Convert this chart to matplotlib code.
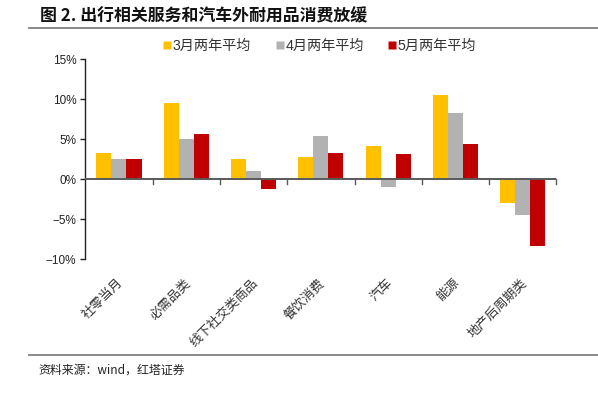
import matplotlib
matplotlib.use("Agg")
import matplotlib.pyplot as plt
import numpy as np
from matplotlib.lines import Line2D

plt.rcParams['font.family'] = ['Liberation Sans', 'Noto Sans CJK SC', 'DejaVu Sans']
plt.rcParams['axes.unicode_minus'] = True

categories = ["社零当月", "必需品类", "线下社交类商品", "餐饮消费", "汽车", "能源", "地产后周期类"]
series_names = ["3月两年平均", "4月两年平均", "5月两年平均"]
mar_vals = [3.25, 9.6, 2.5, 2.75, 4.15, 10.6, -3.0]
apr_vals = [2.6, 5.1, 1.1, 5.4, -0.9, 8.3, -4.45]
may_vals = [2.6, 5.65, -1.15, 3.25, 3.2, 4.4, -8.35]
colors = ["#FFC000", "#B2B2B2", "#C00000"]
yticks = [-10, -5, 0, 5, 10, 15]

fig = plt.figure(figsize=(5.98, 3.93), dpi=100)
ax = fig.add_axes([0.1427, 0.340, 0.7879, 0.509])

x = np.arange(len(categories))
w = 0.223
for i, (vals, c) in enumerate(zip([mar_vals, apr_vals, may_vals], colors)):
    ax.bar(x + (i - 1) * w, vals, width=w, color=c, edgecolor='none', zorder=2)

ax.set_xlim(-0.5, len(categories) - 0.5)
ax.set_ylim(-10, 15)
ax.set_yticks(yticks)
ax.set_yticklabels([f"{t}%".replace('-', '\u2212') for t in yticks], fontsize=8.5, color='#222222')
ax.tick_params(axis='y', direction='out', length=3.5, width=1, color='#222222', pad=3)

for s in ['top', 'right', 'bottom']:
    ax.spines[s].set_visible(False)
ax.spines['left'].set_color('#222222')
ax.spines['left'].set_linewidth(1)

ax.axhline(0, color='#595959', lw=1.4, zorder=3)
ax.set_xticks([])
for b in np.arange(0.5, len(categories), 1.0):
    ax.plot([b, b], [0, -0.55], color='#595959', lw=1, clip_on=False, zorder=3)

for xi, lab in zip(x, categories):
    ax.text(xi - 0.04, -12.1, lab, rotation=45, ha='right', va='top', rotation_mode='anchor',
            fontsize=9.3, family=['Noto Sans CJK SC'], color='#333333', clip_on=False)

handles = [Line2D([0], [0], marker='s', linestyle='none', markersize=5.5, markerfacecolor=c,
                  markeredgecolor='none') for c in colors]
fig.legend(handles, series_names, loc='center', bbox_to_anchor=(0.535, 0.884), ncol=3,
           frameon=False, handlelength=0.5, handletextpad=0.15, columnspacing=1.75,
           labelcolor='#333333',
           prop={'family': ['Liberation Sans', 'Noto Sans CJK SC'], 'size': 10.2})

fig.text(0.067, 0.957, "图 2. 出行相关服务和汽车外耐用品消费放缓", fontsize=12.2, fontweight='bold',
         va='center', ha='left', family=['Noto Sans CJK SC'], color='#111111')
fig.add_artist(Line2D([0.0485, 1.0], [0.9295, 0.9295], color='#808080', lw=1.3, transform=fig.transFigure))
fig.add_artist(Line2D([0.0485, 1.0], [0.0967, 0.0967], color='#808080', lw=1.3, transform=fig.transFigure))
fig.text(0.065, 0.059, "资料来源：wind，红塔证券", fontsize=8.6, va='center', ha='left',
         family=['Noto Sans CJK SC', 'Liberation Sans'], color='#222222')

fig.savefig("out.png", dpi=100, facecolor='white')
